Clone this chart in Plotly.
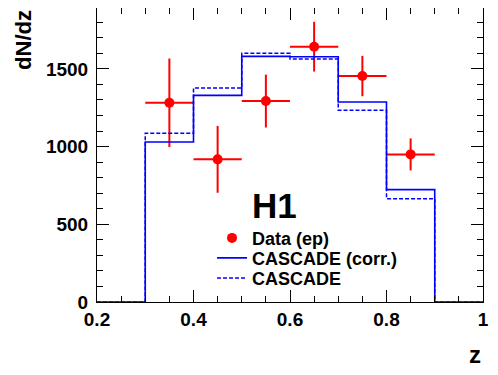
import plotly.graph_objects as go

# Data
z_centers = [0.35, 0.45, 0.55, 0.65, 0.75, 0.85]
data_vals = [1282, 918, 1293, 1643, 1454, 950]
data_err = [285, 215, 170, 160, 130, 103]
bin_edges = [0.2, 0.3, 0.4, 0.5, 0.6, 0.7, 0.8, 0.9, 1.0]
cascade_corr = [0, 1030, 1330, 1581, 1578, 1287, 723, 0]
cascade = [0, 1086, 1377, 1600, 1564, 1234, 665, 0]

FONT = "Liberation Sans"

fig = go.Figure()
fig.add_trace(go.Scatter(
    x=z_centers, y=data_vals, mode="markers", name="<b>Data (ep)</b>", legend="legend",
    marker=dict(color="red", size=10, symbol="circle"),
    error_x=dict(type="constant", value=0.05, color="red", thickness=2, width=0),
    error_y=dict(type="data", array=data_err, color="red", thickness=2, width=0),
))
fig.add_trace(go.Scatter(
    x=bin_edges, y=cascade_corr + [0], mode="lines", line_shape="hv", legend="legend2",
    name="<b>CASCADE (corr.)</b>", line=dict(color="#0000ff", width=1.6),
))
fig.add_trace(go.Scatter(
    x=bin_edges, y=cascade + [0], mode="lines", line_shape="hv", legend="legend3",
    name="<b>CASCADE</b>", line=dict(color="#0000ff", width=1.5, dash="4px,2px"),
))

axis_common = dict(
    showgrid=False, zeroline=False, showline=True, linecolor="black", linewidth=1,
    mirror="allticks", ticks="inside", tickcolor="black", automargin=False,
    tickfont=dict(family=FONT, size=19, color="black", weight="bold"),
)
fig.update_xaxes(range=[0.2, 1.0], tickvals=[0.2, 0.4, 0.6, 0.8, 1.0],
                 ticktext=["0.2", "0.4", "0.6", "0.8", "1"], ticklen=12,
                 minor=dict(dtick=0.05, tick0=0.2, ticks="inside", ticklen=6, tickcolor="black"),
                 **axis_common)
fig.update_yaxes(range=[0, 1892], tickvals=[0, 500, 1000, 1500], ticklen=12,
                 ticklabelstandoff=4,
                 minor=dict(dtick=100, tick0=0, ticks="inside", ticklen=6, tickcolor="black"),
                 **axis_common)

fig.add_annotation(text="<b>dN/dz</b>", xref="paper", yref="paper", x=-0.192, y=1.0,
                   xanchor="center", yanchor="top", textangle=-90, showarrow=False,
                   font=dict(family=FONT, size=22, color="black"))
fig.add_annotation(text="<b>z</b>", xref="paper", yref="paper", x=0.979, y=-0.18,
                   xanchor="center", yanchor="middle", showarrow=False,
                   font=dict(family=FONT, size=24, color="black"))
fig.add_annotation(text="<b>H1</b>", xref="x", yref="y", x=0.567, y=624,
                   xanchor="center", yanchor="middle", showarrow=False,
                   font=dict(family=FONT, size=35, color="black"))

leg = dict(xanchor="left", yanchor="middle", bgcolor="rgba(0,0,0,0)",
           font=dict(family=FONT, size=18, color="black"), itemwidth=30)
fig.update_layout(
    width=490, height=367,
    margin=dict(l=89, r=15, t=0, b=73),
    paper_bgcolor="white", plot_bgcolor="white",
    showlegend=True,
    legend=dict(x=0.298, y=0.217, **leg),
    legend2=dict(x=0.298, y=0.149, **leg),
    legend3=dict(x=0.298, y=0.081, **leg),
)
fig.write_html("out.html")
